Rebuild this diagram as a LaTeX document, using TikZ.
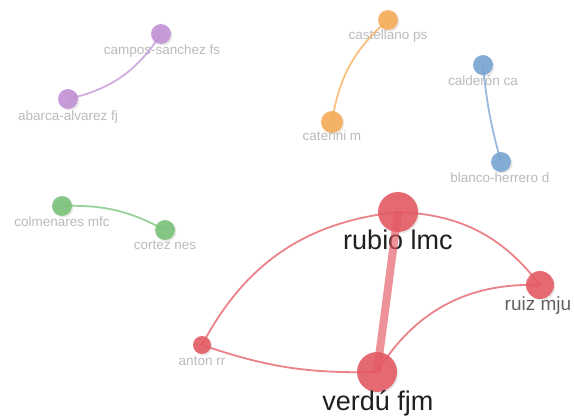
\documentclass[tikz,border=0pt]{standalone}
\usepackage{fontspec}
\setmainfont{Liberation Sans}
\usepackage{tikz}
\usetikzlibrary{shadows, positioning}

\definecolor{cpurple}{RGB}{194,144,212}
\definecolor{corange}{RGB}{246,172,84}
\definecolor{cblue}{RGB}{118,164,210}
\definecolor{cgreen}{RGB}{120,194,120}
\definecolor{cred}{RGB}{228,88,98}

\tikzset{
    author/.style={circle, inner sep=0pt, fill=#1, fill opacity=0.88, draw=none,
        drop shadow={opacity=0.18, shadow xshift=1.5pt, shadow yshift=-1.5pt}},
    link/.style={draw=#1, draw opacity=0.75, line width=1.8pt},
    smalllbl/.style={inner sep=0pt, text=black!27, font=\fontsize{13.5}{16}\selectfont},
    midlbl/.style={inner sep=0pt, text=black!62, font=\fontsize{19}{22}\selectfont},
    biglbl/.style={inner sep=0pt, text=black!88, font=\fontsize{27}{31}\selectfont},
}

\begin{document}
\begin{tikzpicture}[x=1pt, y=-1pt]
    \useasboundingbox (0,0) rectangle (574,417);

    % Authors
    \node[author=cpurple, minimum size=20pt] (campos) at (161,34) {};
    \node[author=cpurple, minimum size=20pt] (abarca) at (68,99) {};
    \node[author=corange, minimum size=20pt] (castellano) at (388,20) {};
    \node[author=corange, minimum size=22pt] (caterini) at (332,122) {};
    \node[author=cblue, minimum size=20pt] (calderon) at (483,65) {};
    \node[author=cblue, minimum size=20pt] (blanco) at (501,162) {};
    \node[author=cgreen, minimum size=20pt] (colmenares) at (62,206) {};
    \node[author=cgreen, minimum size=20pt] (cortez) at (165,230) {};
    \node[author=cred, minimum size=18pt] (anton) at (202,345) {};
    \node[author=cred, minimum size=40pt] (rubio) at (398,212) {};
    \node[author=cred, minimum size=28pt] (ruiz) at (540,285) {};
    \node[author=cred, minimum size=40pt] (verdu) at (377,372) {};

    % Labels
    \node[smalllbl, anchor=base] (lcampos) at (162,55) {campos-sanchez fs};
    \node[smalllbl, anchor=base] (labarca) at (68,121) {abarca-alvarez fj};
    \node[smalllbl, anchor=base] (lcastellano) at (388,40) {castellano ps};
    \node[smalllbl, anchor=base] (lcaterini) at (332,141) {caterini m};
    \node[smalllbl, anchor=base] (lcalderon) at (483,86) {calderón ca};
    \node[smalllbl, anchor=base] (lblanco) at (500,183) {blanco-herrero d};
    \node[smalllbl, anchor=base] (lcolmenares) at (62,227) {colmenares mfc};
    \node[smalllbl, anchor=base] (lcortez) at (165,250) {cortez nes};
    \node[smalllbl, anchor=base] (lanton) at (202,366) {anton rr};
    \node[biglbl, anchor=base] (lrubio) at (398,250) {rubio lmc};
    \node[midlbl, anchor=base] (lruiz) at (538,311) {ruiz mju};
    \node[biglbl, anchor=base] (lverdu) at (378,410) {verdú fjm};

    % Co-authorship links
    \draw[link=cpurple] (campos.center) to[bend left=22] (abarca.center);
    \draw[link=corange] (castellano.center) to[bend right=20] (caterini.center);
    \draw[link=cblue] (calderon.center) to[bend right=5] (blanco.center);
    \draw[link=cgreen] (colmenares.center) to[bend left=15] (cortez.center);
    \draw[link=cred] (anton.center) to[bend left=28] (rubio.center);
    \draw[link=cred] (rubio.center) to[bend left=25] (ruiz.center);
    \draw[link=cred] (anton.center) to[bend right=10] (verdu.center);
    \draw[link=cred] (verdu.center) to[bend left=30] (ruiz.center);
    \draw[link=cred, line width=8pt, draw opacity=0.65] (rubio.center) -- (verdu.center);
\end{tikzpicture}
\end{document}
